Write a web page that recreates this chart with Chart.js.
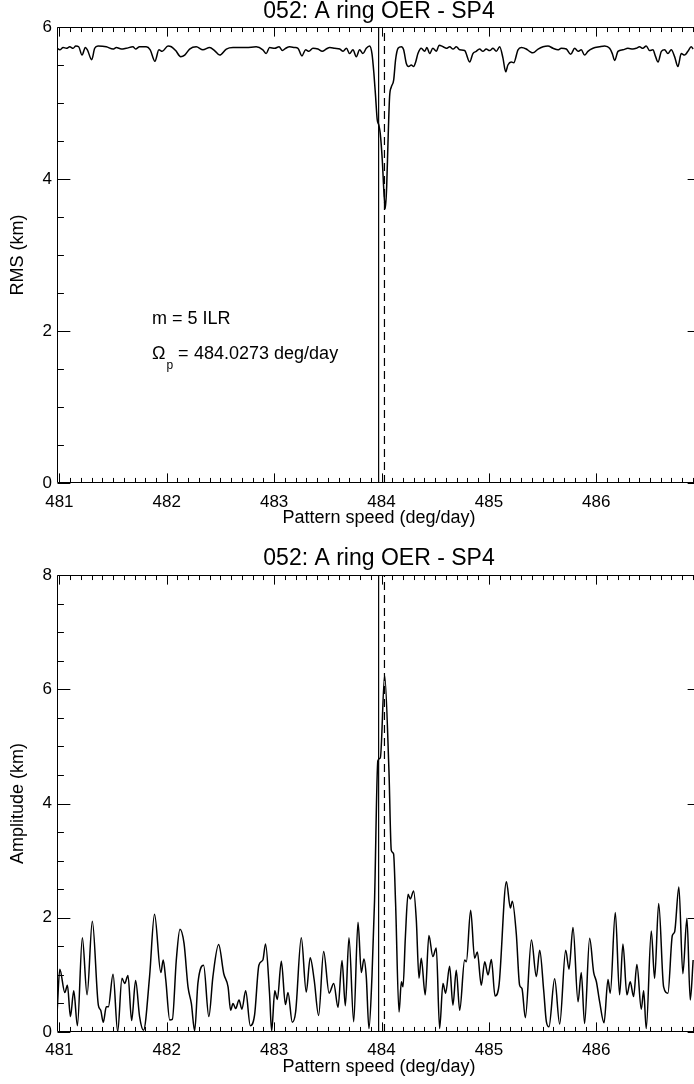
<!DOCTYPE html>
<html><head><meta charset="utf-8">
<script src="https://cdn.jsdelivr.net/npm/chart.js@4/dist/chart.umd.min.js"></script>
<style>
html,body{margin:0;padding:0;background:#fff;overflow:hidden;}
.wrap{width:694px;height:542px;overflow:hidden;position:relative;}
canvas{display:block;}
</style>
</head><body>
<div class="wrap"><canvas id="c1" width="701" height="542"></canvas></div>
<div class="wrap"><canvas id="c2" width="701" height="542"></canvas></div>
<script>
// ---------------- data ----------------
const chartTitle = '052: A ring OER - SP4';
const xTitle = 'Pattern speed (deg/day)';
const xMin = 480.978, xMax = 486.975;
const xTickVals = [481, 482, 483, 484, 485, 486];
const rmsTickVals = [0, 2, 4, 6];
const ampTickVals = [0, 2, 4, 6, 8];
const markerSolid = 483.973;
const markerDashed = 484.0273;

const rmsX = [480.980,481.004,481.035,481.066,481.097,481.128,481.153,481.180,481.211,481.242,481.261,481.301,481.329,481.360,481.437,481.500,481.531,481.577,481.623,481.685,481.710,481.747,481.809,481.846,481.890,481.927,481.958,482.012,482.043,482.083,482.130,482.167,482.213,482.275,482.337,482.399,482.445,482.493,482.555,482.617,482.741,482.833,482.895,482.926,482.957,483.006,483.046,483.077,483.108,483.145,483.191,483.222,483.259,483.293,483.324,483.361,483.408,483.448,483.485,483.518,483.564,483.611,483.642,483.673,483.703,483.734,483.765,483.796,483.827,483.858,483.889,483.911,483.929,483.945,483.960,483.975,483.988,484.007,484.023,484.035,484.048,484.060,484.075,484.091,484.113,484.131,484.154,484.185,484.206,484.231,484.253,484.277,484.299,484.318,484.339,484.370,484.401,484.423,484.448,484.478,484.511,484.536,484.573,484.604,484.635,484.666,484.697,484.728,484.774,484.821,484.851,484.882,484.913,484.944,484.975,485.007,485.038,485.069,485.100,485.131,485.156,485.177,485.208,485.231,485.271,485.302,485.348,485.379,485.410,485.458,485.504,485.550,485.597,485.643,485.674,485.721,485.761,485.799,485.830,485.860,485.891,485.922,485.969,486.031,486.078,486.124,486.149,486.171,486.202,486.248,486.294,486.341,486.372,486.403,486.433,486.465,486.496,486.527,486.552,486.575,486.606,486.636,486.667,486.698,486.729,486.760,486.791,486.822,486.853,486.884,486.902];
const rmsY = [5.72,5.70,5.73,5.72,5.74,5.72,5.75,5.74,5.63,5.73,5.70,5.57,5.72,5.75,5.74,5.71,5.73,5.71,5.72,5.74,5.71,5.74,5.74,5.70,5.55,5.70,5.68,5.75,5.74,5.69,5.61,5.63,5.71,5.74,5.70,5.73,5.69,5.63,5.71,5.73,5.73,5.74,5.70,5.65,5.73,5.72,5.74,5.69,5.72,5.74,5.73,5.72,5.62,5.70,5.68,5.72,5.71,5.68,5.71,5.73,5.72,5.71,5.68,5.72,5.65,5.70,5.61,5.70,5.65,5.72,5.75,5.65,5.39,5.08,4.78,4.71,4.60,4.25,3.81,3.61,3.90,4.47,5.08,5.21,5.30,5.57,5.72,5.74,5.70,5.52,5.48,5.50,5.48,5.54,5.65,5.72,5.68,5.73,5.65,5.72,5.68,5.76,5.74,5.72,5.74,5.71,5.74,5.70,5.69,5.54,5.65,5.68,5.71,5.68,5.71,5.69,5.72,5.68,5.74,5.59,5.41,5.50,5.54,5.53,5.70,5.73,5.71,5.68,5.66,5.71,5.74,5.75,5.72,5.70,5.72,5.71,5.64,5.72,5.68,5.70,5.63,5.68,5.72,5.74,5.75,5.72,5.65,5.56,5.68,5.70,5.72,5.71,5.72,5.74,5.72,5.75,5.69,5.70,5.61,5.54,5.68,5.70,5.65,5.70,5.61,5.48,5.65,5.63,5.68,5.74,5.71];

const ampX = [480.980,481.004,481.051,481.075,481.103,481.134,481.168,481.214,481.258,481.307,481.363,481.385,481.409,481.437,481.456,481.500,481.543,481.583,481.608,481.639,481.673,481.710,481.747,481.784,481.840,481.886,481.945,481.967,481.991,482.028,482.052,482.089,482.123,482.161,482.198,482.229,482.260,482.290,482.343,482.392,482.430,482.483,482.531,482.571,482.595,482.617,482.642,482.673,482.700,482.735,482.778,482.818,482.858,482.895,482.920,482.957,482.977,483.006,483.030,483.067,483.105,483.129,483.169,483.200,483.253,483.299,483.336,483.373,483.414,483.461,483.512,483.555,483.595,483.632,483.663,483.697,483.741,483.781,483.812,483.836,483.858,483.883,483.911,483.935,483.966,483.989,484.029,484.069,484.091,484.112,484.131,484.163,484.185,484.200,484.222,484.247,484.268,484.299,484.324,484.349,484.370,484.407,484.441,484.478,484.510,484.541,484.572,484.597,484.634,484.665,484.696,484.728,484.774,484.790,484.830,484.867,484.892,484.929,484.961,484.992,485.023,485.057,485.094,485.163,485.200,485.218,485.255,485.286,485.308,485.339,485.396,485.442,485.473,485.510,485.535,485.559,485.612,485.659,485.715,485.746,485.783,485.830,485.860,485.891,485.938,485.975,486.001,486.031,486.072,486.109,486.130,486.177,486.217,486.248,486.285,486.316,486.347,486.378,486.419,486.441,486.465,486.512,486.543,486.581,486.627,486.667,486.708,486.729,486.769,486.806,486.844,486.875,486.902];
const ampY = [0.38,1.10,0.69,0.82,0.27,0.72,0.11,1.65,0.65,1.94,0.47,0.38,0.17,0.44,0.44,1.01,0.01,0.94,0.85,0.99,0.20,0.90,0.27,0.03,0.97,2.06,1.04,1.26,0.91,0.21,0.22,1.26,1.80,1.55,0.79,0.50,0.02,0.85,1.17,0.27,0.97,1.53,1.02,0.79,0.38,0.50,0.41,0.56,0.40,0.72,0.11,0.30,1.17,1.26,1.54,0.68,0.02,0.72,0.57,1.24,0.48,0.69,0.17,0.35,1.65,0.70,1.30,0.91,0.29,1.41,0.68,0.85,0.43,1.25,0.46,1.65,0.18,1.92,1.04,1.28,0.97,0.06,0.97,2.30,4.75,4.80,6.24,4.58,3.18,3.12,2.25,0.35,0.88,0.79,1.66,2.41,2.33,2.47,1.96,0.94,1.29,0.65,1.69,1.32,1.47,0.06,0.85,0.68,1.15,0.47,1.08,0.38,1.26,1.23,2.13,1.29,1.40,0.82,1.23,1.00,1.27,0.63,0.82,2.63,2.17,2.29,1.72,0.82,0.76,0.25,1.61,0.97,1.43,0.73,0.18,0.09,0.93,0.14,1.43,1.10,1.83,0.53,1.04,0.15,1.64,1.05,0.88,0.53,0.16,0.92,0.68,2.09,0.65,1.54,0.65,0.88,0.62,1.18,0.40,0.72,0.06,1.77,0.94,2.25,0.79,0.68,1.69,1.75,2.54,1.02,1.99,0.56,1.26];

// ---------------- helpers ----------------
const FONT = "'Liberation Sans', Arial, Helvetica, sans-serif";
Chart.defaults.font.family = FONT;
Chart.defaults.color = '#000';

function pts(xs, ys) { return xs.map((v, i) => ({x: v, y: ys[i]})); }

const idlAxes = {
  id: 'idlAxes',
  afterDraw(chart) {
    const {ctx, chartArea: a, scales: {x, y}} = chart;
    const o = chart.options.plugins.idlAxes;
    ctx.save();
    ctx.strokeStyle = '#000';
    ctx.lineWidth = 1;
    const L = Math.round(a.left) + 0.5, R = Math.round(a.right) - 0.5;
    const T = Math.round(a.top) + 0.5, B = Math.round(a.bottom) - 0.5;
    ctx.beginPath();
    ctx.rect(L, T, R - L, B - T);
    const xh = (B - T) * 0.02, yh = (R - L) * 0.02;
    const first = Math.ceil(x.min * 10 - 1e-6);
    for (let i = first; i / 10 <= x.max + 1e-6; i++) {
      const v = i / 10;
      const px = Math.round(x.getPixelForValue(v)) + 0.5;
      const len = (i % 10 === 0) ? xh : xh / 2;
      ctx.moveTo(px, B); ctx.lineTo(px, B - len);
      ctx.moveTo(px, T); ctx.lineTo(px, T + len);
    }
    for (let k = 0; k * 0.5 <= y.max + 1e-6; k++) {
      const v = k * 0.5;
      const py = Math.round(y.getPixelForValue(v)) + 0.5;
      const len = (k % 4 === 0) ? yh : yh / 2;
      ctx.moveTo(L, py); ctx.lineTo(L + len, py);
      ctx.moveTo(R, py); ctx.lineTo(R - len, py);
    }
    ctx.stroke();
    if (o && o.notes) {
      const n = o.notes;
      ctx.fillStyle = '#000';
      ctx.textBaseline = 'middle';
      ctx.font = '18px ' + FONT;
      ctx.fillText('m = 5 ILR', n.x, n.y1);
      ctx.fillText('\u03A9', n.x, n.y2);
      const w = ctx.measureText('\u03A9').width;
      ctx.fillText('=', n.xEq, n.y2);
      ctx.fillText('484.0273 deg/day', n.xVal, n.y2);
      ctx.font = '12px ' + FONT;
      ctx.fillText('p', n.x + w + 1, n.y2 + 12);
    }
    ctx.restore();
  }
};

function makeChart(id, xs, ys, yMax, yTicks, yTitle, titlePad, xH, xLabelPad, xTitlePad, notes) {
  return new Chart(document.getElementById(id), {
    type: 'line',
    data: {
      datasets: [
        {data: pts(xs, ys), borderColor: '#000', borderWidth: 1.5, pointRadius: 0, cubicInterpolationMode: 'monotone', fill: false},
        {data: [{x: markerSolid, y: 0}, {x: markerSolid, y: yMax}], borderColor: '#000', borderWidth: 1.2, pointRadius: 0, tension: 0},
        {data: [{x: markerDashed, y: 0}, {x: markerDashed, y: yMax}], borderColor: '#000', borderWidth: 1.2, borderDash: [8, 5], pointRadius: 0, tension: 0}
      ]
    },
    options: {
      responsive: false, animation: false, devicePixelRatio: 1,
      layout: {padding: {left: 0, right: 0, top: 0, bottom: 0}},
      plugins: {
        legend: {display: false}, tooltip: {enabled: false},
        title: {display: true, text: chartTitle, color: '#000', fullSize: false,
          font: {size: 23, weight: 'normal', lineHeight: 1}, padding: titlePad},
        idlAxes: {notes: notes}
      },
      scales: {
        x: {type: 'linear', min: xMin, max: xMax,
          grid: {display: false, drawTicks: false}, border: {display: false},
          afterBuildTicks: s => { s.ticks = xTickVals.map(v => ({value: v})); },
          afterFit: s => { s.height = xH; },
          ticks: {font: {size: 17}, padding: xLabelPad, maxRotation: 0, autoSkip: false},
          title: {display: true, text: xTitle, font: {size: 18}, padding: {top: 0, bottom: xTitlePad}}
        },
        y: {type: 'linear', min: 0, max: yMax,
          grid: {display: false, drawTicks: false}, border: {display: false},
          afterBuildTicks: s => { s.ticks = yTicks.map(v => ({value: v})); },
          afterFit: s => { s.width = 57; },
          ticks: {font: {size: 17}, padding: 5},
          title: {display: true, text: yTitle, font: {size: 18}, padding: {top: 7, bottom: 0}}
        }
      }
    },
    plugins: [idlAxes]
  });
}

makeChart('c1', rmsX, rmsY, 6, rmsTickVals, 'RMS (km)', {top: 0, bottom: 4}, 59, 9, 13,
  {x: 152, y1: 319, y2: 354, xEq: 178, xVal: 194});
makeChart('c2', ampX, ampY, 8, ampTickVals, 'Amplitude (km)', {top: 5, bottom: 5}, 52, 8, 6, null);
</script>
</body></html>
